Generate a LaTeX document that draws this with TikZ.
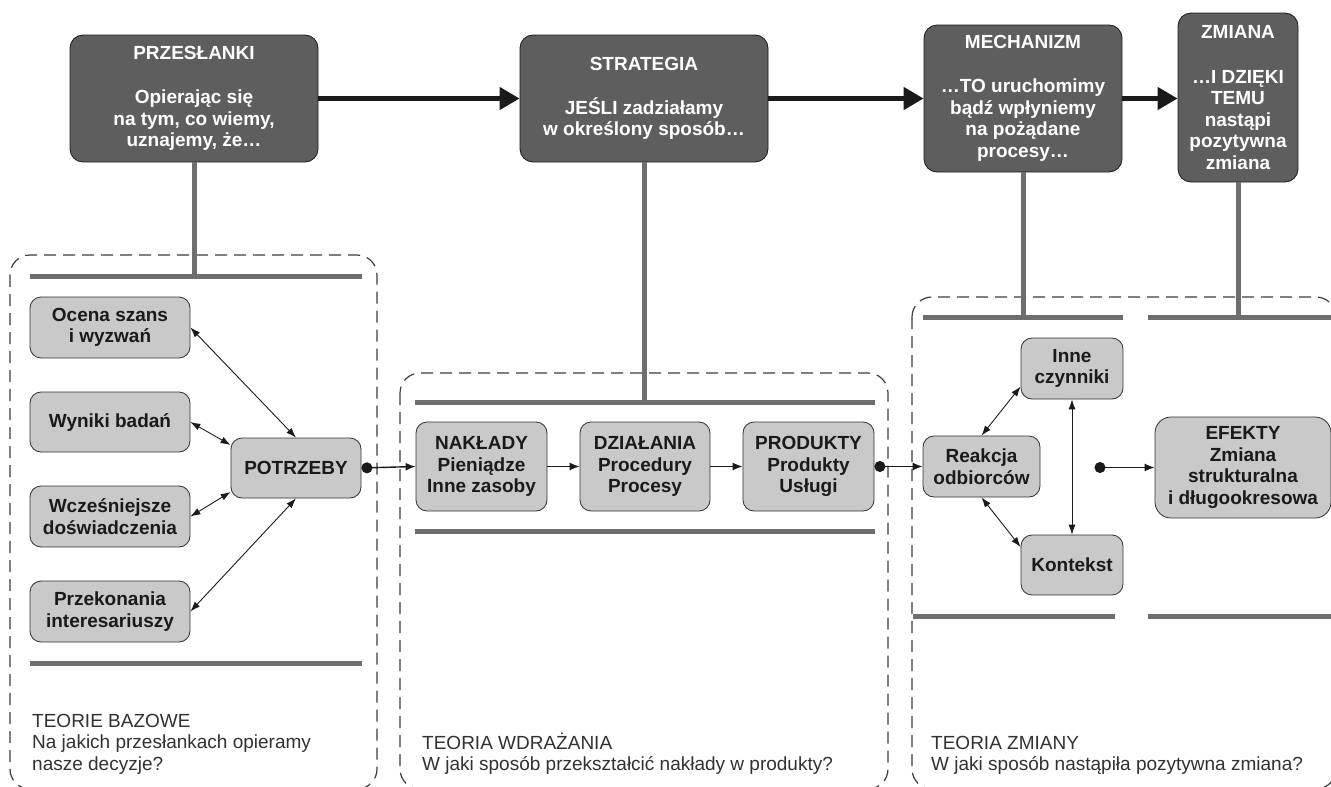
\documentclass[tikz,border=0pt]{standalone}
\usepackage{fontspec}
\setmainfont{Liberation Sans}
\usetikzlibrary{arrows.meta}
\definecolor{darkbox}{HTML}{5E5E5E}
\definecolor{lightbox}{HTML}{C9C9C9}
\definecolor{barcol}{HTML}{6E6E6E}
\definecolor{ink}{HTML}{1A1A1A}

\begin{document}
\begin{tikzpicture}[x=1pt,y=-1pt,
  boxfont/.style={font=\bfseries\fontsize{19}{21.5}\selectfont},
  topbox/.style={boxfont, draw=ink, line width=0.8pt, fill=darkbox,
    rounded corners=13pt, text=white, align=center, inner sep=0pt},
  lbox/.style={boxfont, draw=ink!90, line width=0.8pt, fill=lightbox,
    rounded corners=11pt, text=ink, align=center, inner sep=0pt},
  frame/.style={draw=ink!85, line width=1.2pt, dash pattern=on 12pt off 7pt,
    rounded corners=20pt},
  bar/.style={draw=barcol, line width=5pt},
  stem/.style={draw=barcol, line width=5pt},
  flow/.style={draw=ink, line width=4.5pt, -{Triangle[length=20pt,width=22pt]}},
  link/.style={draw=ink, line width=0.9pt,
    {Latex[length=10pt,width=7pt]}-{Latex[length=10pt,width=7pt]}},
  feed/.style={draw=ink, line width=1.4pt,
    {Circle[length=11pt]}-{Latex[length=10pt,width=8pt]}},
  stepline/.style={draw=ink, line width=1.4pt, -{Latex[length=10pt,width=8pt]}},
  caption/.style={font=\fontsize{19}{21.5}\selectfont, text=ink!90,
    align=left, inner sep=0pt, anchor=base west},
]
\useasboundingbox (0,0) rectangle (1331,787);
\clip (0,0) rectangle (1331,787);

% dashed panels
\draw[frame] (10,255) rectangle (377,789);
\draw[frame] (400,373) rectangle (888,789);
\draw[frame] (912,297) rectangle (1336,789);

% top row: logic of the intervention
\node[topbox, minimum width=248pt, minimum height=127pt] (przes) at (194,98.5)
  {PRZESŁANKI\\[22.5pt]Opierając się\\na tym, co wiemy,\\uznajemy, że…};
\node[topbox, minimum width=248pt, minimum height=127pt] (strat) at (644,98.5)
  {STRATEGIA\\[22.5pt]JEŚLI zadziałamy\\w określony sposób…};
\node[topbox, minimum width=198pt, minimum height=147pt] (mech) at (1023,98.5)
  {MECHANIZM\\[22.5pt]…TO uruchomimy\\bądź wpłyniemy\\na pożądane\\procesy…};
\node[topbox, minimum width=120pt, minimum height=169pt] (zmiana) at (1238,97.5)
  {ZMIANA\\[23pt]…I DZIĘKI\\TEMU\\nastąpi\\pozytywna\\zmiana};

\draw[flow] (przes.east) -- (strat.west);
\draw[flow] (strat.east) -- (mech.west);
\draw[flow] (mech.east) -- (mech.east -| zmiana.west);

% bars framing each theory
\coordinate (lbarA) at (30,276);   \coordinate (lbarB) at (362,276);
\coordinate (mbarA) at (415,402);  \coordinate (mbarB) at (875,402);
\coordinate (rbarA) at (923,317);  \coordinate (rbarB) at (1123,317);
\coordinate (rbarC) at (1148,317); \coordinate (rbarD) at (1334,317);
\draw[bar] (lbarA) -- (lbarB);
\draw[bar] (30,663) -- (362,663);
\draw[bar] (mbarA) -- (mbarB);
\draw[bar] (415,531) -- (875,531);
\draw[bar] (rbarA) -- (rbarB);
\draw[bar] (rbarC) -- (rbarD);
\draw[bar] (913,616) -- (1115,616);
\draw[bar] (1148,616) -- (1334,616);

% stems from the top row down to the bars
\draw[stem] (przes.south) -- (przes.south |- lbarA);
\draw[stem] (strat.south) -- (strat.south |- mbarA);
\draw[stem] (mech.south) -- (mech.south |- rbarA);
\draw[stem] (zmiana.south) -- (zmiana.south |- rbarC);

% base theories
\node[lbox, minimum width=160pt, minimum height=61pt] (ocena) at (110,327.5)
  {Ocena szans\\i wyzwań};
\node[lbox, minimum width=160pt, minimum height=60pt] (wyniki) at (110,422)
  {Wyniki badań};
\node[lbox, minimum width=160pt, minimum height=61pt] (wczes) at (110,516.5)
  {Wcześniejsze\\doświadczenia};
\node[lbox, minimum width=160pt, minimum height=61pt] (przek) at (110,611.5)
  {Przekonania\\interesariuszy};
\node[lbox, minimum width=130pt, minimum height=60pt] (potrz) at (296,468)
  {POTRZEBY};

\draw[link] (ocena.east) -- (potrz.north);
\draw[link] (wyniki.east) -- ([yshift=23pt]potrz.west);
\draw[link] (wczes.east) -- ([yshift=-24pt]potrz.west);
\draw[link] (przek.east) -- (potrz.south);

% implementation theory
\node[lbox, minimum width=131pt, minimum height=89pt] (naklady) at (481.5,466.5)
  {NAKŁADY\\Pieniądze\\Inne zasoby};
\node[lbox, minimum width=130pt, minimum height=89pt] (dzial) at (645,466.5)
  {DZIAŁANIA\\Procedury\\Procesy};
\node[lbox, minimum width=131pt, minimum height=89pt] (produkty) at (808.5,466.5)
  {PRODUKTY\\Produkty\\Usługi};

\draw[feed] (potrz.east) -- (naklady.west);
\draw[stepline] (naklady.east) -- (dzial.west);
\draw[stepline] (dzial.east) -- (produkty.west);

% change theory
\node[lbox, minimum width=102pt, minimum height=61pt] (inne) at (1072,368.5)
  {Inne\\czynniki};
\node[lbox, minimum width=117pt, minimum height=61pt] (reakcja) at (981.5,466.5)
  {Reakcja\\odbiorców};
\node[lbox, minimum width=102pt, minimum height=60pt] (kontekst) at (1072,565)
  {Kontekst};
\node[lbox, minimum width=176pt, minimum height=101pt, rounded corners=16pt] (efekty) at (1243,467.5)
  {EFEKTY\\Zmiana\\strukturalna\\i długookresowa};

\draw[feed] (produkty.east) -- (reakcja.west);
\draw[link] (reakcja.north) -- ([yshift=-18pt]inne.west);
\draw[link] (reakcja.south) -- ([yshift=18pt]kontekst.west);
\draw[link] (inne.south) -- (kontekst.north);
\coordinate (outcome) at (1094.5,467.5);
\draw[feed] (outcome) -- (efekty.west);

% panel captions (anchored at the baseline of their last line)
\node[caption] (capL) at (32,770)
  {TEORIE BAZOWE\\Na jakich przesłankach opieramy\\nasze decyzje?};
\node[caption] (capM) at (422,770.5)
  {TEORIA WDRAŻANIA\\W jaki sposób przekształcić nakłady w produkty?};
\node[caption] (capR) at (931,770.5)
  {TEORIA ZMIANY\\W jaki sposób nastąpiła pozytywna zmiana?};
\end{tikzpicture}
\end{document}
